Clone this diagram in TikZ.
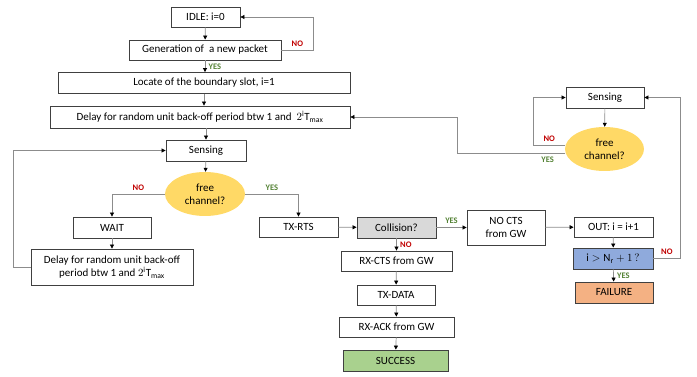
\documentclass[tikz,border=0pt]{standalone}
\usepackage{fontspec}
\setmainfont{Carlito}
\usepackage{amsmath}
\usetikzlibrary{
  shapes.geometric,
  arrows.meta
}
\definecolor{chanyellow}{HTML}{FFD966}
\definecolor{collgray}{HTML}{D9D9D9}
\definecolor{checkblue}{HTML}{8FAADC}
\definecolor{failorange}{HTML}{F4B183}
\definecolor{succgreen}{HTML}{A9D18E}
\definecolor{nored}{HTML}{C00000}
\definecolor{yesgreen}{HTML}{548235}

\begin{document}
\begin{tikzpicture}[x=1pt, y=-1pt,
  every node/.style = {font=\fontsize{11}{13}\selectfont},
  box/.style = {shape=rectangle, draw=black!75, line width=0.8pt,
    fill=white, inner sep=0pt, align=center},
  test/.style = {ellipse, fill=chanyellow, minimum width=80pt,
    minimum height=44pt, inner sep=0pt, align=center},
  flow/.style = {draw=black!45, line width=0.7pt,
    -{Triangle[length=4pt, width=4pt, color=black]}},
  yes/.style = {font=\fontsize{8.5}{10}\selectfont\bfseries, text=yesgreen},
  no/.style = {font=\fontsize{8.5}{10}\selectfont\bfseries, text=nored}]
  \useasboundingbox (0,0) rectangle (697,377);

  \node[box, minimum width=69pt, minimum height=20pt] (idle) at (205.5,17) {IDLE: i=0};
  \node[box, minimum width=152pt, minimum height=20pt] (gen) at (205,50) {Generation of \ a new packet};
  \node[box, minimum width=292pt, minimum height=21pt] (locate) at (204,83) {Locate of the boundary slot, i=1};
  \node[box, minimum width=300pt, minimum height=22pt] (delay) at (200,117)
    {Delay for random unit back-off period btw 1 and \ $2^{\mathrm{i}}\mathrm{T}_{\mathrm{max}}$};
  \node[box, minimum width=80pt, minimum height=21pt] (sense) at (206,150.5) {Sensing};
  \node[test] (chan) at (205,194) {free\\channel?};
  \node[box, minimum width=78pt, minimum height=21pt] (wait) at (112,227.5) {WAIT};
  \node[box, minimum width=162pt, minimum height=36pt] (backoff) at (112,267)
    {Delay for random unit back-off\\period btw 1 and $2^{\mathrm{i}}\mathrm{T}_{\mathrm{max}}$};
  \node[box, minimum width=79pt, minimum height=20pt] (rts) at (298.5,227) {TX-RTS};
  \node[box, fill=collgray, minimum width=79pt, minimum height=21pt] (coll) at (396.5,227.5) {Collision?};
  \node[box, minimum width=78pt, minimum height=35pt] (nocts) at (506,227.5) {NO CTS\\from GW};
  \node[box, minimum width=111pt, minimum height=20pt] (rxcts) at (396.5,261) {RX-CTS from GW};
  \node[box, minimum width=78pt, minimum height=20pt] (txdata) at (396,295) {TX-DATA};
  \node[box, minimum width=115pt, minimum height=20pt] (rxack) at (396.5,327) {RX-ACK from GW};
  \node[box, fill=succgreen, minimum width=105pt, minimum height=21pt] (success) at (395.5,360.5) {SUCCESS};
  \node[box, minimum width=79pt, minimum height=20pt] (out) at (613.5,227) {OUT: i = i+1};
  \node[box, fill=checkblue, minimum width=80pt, minimum height=21pt] (check) at (613,258.5)
    {$\mathrm{i} > \mathrm{N_r} + 1\,?$};
  \node[box, fill=failorange, minimum width=78pt, minimum height=21pt] (fail) at (614,292.5) {FAILURE};
  \node[box, minimum width=78pt, minimum height=21pt] (sense2) at (605,97.5) {Sensing};
  \node[test, minimum width=79pt] (chan2) at (604.5,149) {free\\channel?};

  \draw[flow] (idle) -- (gen);
  \draw[flow] (gen.east) -- node[no, above] {NO} ++(32,0) |- (idle.east);
  \draw[flow] (gen) -- node[yes, right] {YES} (gen.south |- locate.north);
  \draw[flow] (locate.south) -- (locate.south |- delay.north);
  \draw[flow] (delay.south -| sense.north) -- (sense);
  \draw[flow] (sense) -- (chan);
  \draw[flow] (chan.west) -| node[no, pos=.25, above] {NO} (wait.north);
  \draw[flow] (chan.east) -| node[yes, pos=.25, above] {YES} (rts.north);
  \draw[flow] (wait) -- (backoff);
  \draw[flow] (backoff.west) -- ++(-17,0) |- (sense.west);
  \draw[flow] (rts) -- (coll);
  \draw[flow] (coll) -- node[yes, above] {YES} (nocts);
  \draw[flow] (coll) -- node[no, right] {NO} (rxcts);
  \draw[flow] (rxcts) -- (txdata);
  \draw[flow] (txdata) -- (rxack);
  \draw[flow] (rxack) -- (success);
  \draw[flow] (nocts) -- (out);
  \draw[flow] (out) -- (check);
  \draw[flow] (check) -- node[yes, right] {YES} (fail);
  \draw[flow] (check.east) -- node[no, above] {NO} ++(27,0) |- (sense2.east);
  \draw[flow] (sense2) -- (chan2);
  \draw[flow] ([yshift=4pt]chan2.west) -- node[no, above] {NO} ++(-31,0) |- (sense2.west);
  \draw[flow] ([yshift=-4pt]chan2.west) -- node[yes, below, pos=.16] {YES} ++(-107,0) |- (delay.east);
\end{tikzpicture}
\end{document}
